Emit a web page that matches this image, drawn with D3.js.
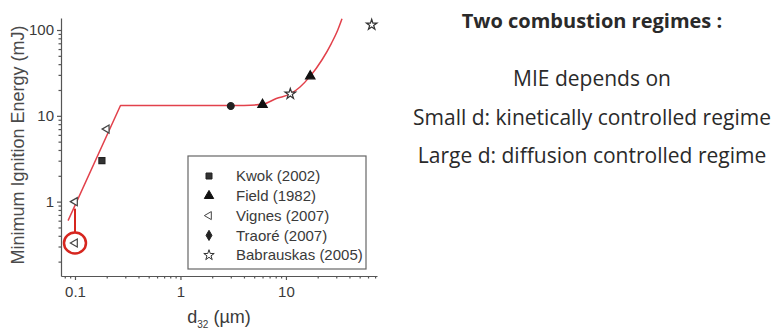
<!DOCTYPE html>
<html>
<head>
<meta charset="utf-8">
<script src="https://cdn.jsdelivr.net/npm/d3@7"></script>
<style>
    body { margin: 0; background: #fff; }
    svg { display: block; }
</style>
</head>
<body>
<div id="chart"></div>
<script>
// Data (x: d32 in um, y: MIE in mJ)
var kwokX = [0.18],
    kwokY = [3];
var fieldX = [6, 17],
    fieldY = [13.5, 29];
var vignesX = [0.1, 0.2, 0.1],
    vignesY = [1, 7, 0.33];
var traoreX = [3],
    traoreY = [13];
var babrauskasX = [11, 65],
    babrauskasY = [18, 115];

// Fitted red curve: straight rise, plateau, then a smooth upturn
var riseX = [0.086, 0.27, 4],
    riseY = [0.6, 13.2, 13.2];
var upturnX = [4, 6, 8.1, 11, 13.6, 17, 22, 27, 31, 34],
    upturnY = [13.2, 13.6, 15.9, 18, 21.7, 29, 45, 70, 100, 135];

var seriesNames = ['Kwok (2002)', 'Field (1982)', 'Vignes (2007)', 'Traoré (2007)', 'Babrauskas (2005)'];
var xTicks = [0.1, 1, 10],
    yTicks = [1, 10, 100];
var xMinor = [0.08, 0.09, 0.2, 0.3, 0.4, 0.5, 0.6, 0.7, 0.8, 0.9, 2, 3, 4, 5, 6, 7, 8, 9, 20, 30, 40, 50, 60, 70],
    yMinor = [0.2, 0.3, 0.4, 0.5, 0.6, 0.7, 0.8, 0.9, 2, 3, 4, 5, 6, 7, 8, 9, 20, 30, 40, 50, 60, 70, 80, 90];

var notes = [
    {text: 'Two combustion regimes :', bold: true},
    {text: 'MIE depends on', bold: false},
    {text: 'Small d: kinetically controlled regime', bold: false},
    {text: 'Large d: diffusion controlled regime', bold: false}
];

var width = 773,
    height = 335;
var axisColor = '#555',
    textColor = '#3a3a3a',
    curveColor = '#e2414b',
    ringColor = '#d6261f';

var svg = d3.select('#chart').append('svg')
    .attr('width', width)
    .attr('height', height);

// Scales
var x = d3.scaleLog().domain([0.0737, 73]).range([61, 377]);
var y = d3.scaleLog().domain([0.136, 138]).range([276, 18]);

// Axes
svg.append('g')
    .attr('transform', 'translate(0,' + y.range()[0] + ')')
    .call(d3.axisBottom(x).tickValues(xTicks).tickSize(4).tickSizeOuter(0).tickPadding(6).tickFormat(d3.format('')));
svg.append('g')
    .attr('transform', 'translate(0,' + y.range()[0] + ')')
    .call(d3.axisBottom(x).tickValues(xMinor).tickSize(2.5).tickFormat(''))
    .select('.domain').remove();

svg.append('g')
    .attr('transform', 'translate(' + x.range()[0] + ',0)')
    .call(d3.axisLeft(y).tickValues(yTicks).tickSize(4).tickSizeOuter(0).tickPadding(3).tickFormat(d3.format('')));
svg.append('g')
    .attr('transform', 'translate(' + x.range()[0] + ',0)')
    .call(d3.axisLeft(y).tickValues(yMinor).tickSize(2.5).tickFormat(''))
    .select('.domain').remove();

svg.selectAll('.domain').attr('stroke', axisColor).attr('stroke-width', 1.2);
svg.selectAll('.tick line').attr('stroke', axisColor).attr('stroke-width', 1.2);
svg.selectAll('.tick text')
    .attr('fill', textColor)
    .style('font-family', 'Liberation Sans, Arial, sans-serif')
    .style('font-size', '15px');

// Axis labels
var xLabel = svg.append('text')
    .attr('x', (x.range()[0] + x.range()[1]) / 2)
    .attr('y', 323)
    .attr('text-anchor', 'middle')
    .attr('fill', textColor)
    .style('font-family', 'Liberation Sans, Arial, sans-serif')
    .style('font-size', '18px');
xLabel.append('tspan').text('d');
xLabel.append('tspan').attr('dy', 5).style('font-size', '10px').text('32');
xLabel.append('tspan').attr('dy', -5).text(' (\u00b5m)');

svg.append('text')
    .attr('transform', 'translate(24,' + 145 + ') rotate(-90)')
    .attr('text-anchor', 'middle')
    .attr('fill', '#4a4a4a')
    .style('font-family', 'Liberation Sans, Arial, sans-serif')
    .style('font-size', '18px')
    .text('Minimum Ignition Energy (mJ)');

// Red fitted curve
var straight = d3.line()
    .x(function(d) { return x(d[0]); })
    .y(function(d) { return y(d[1]); });
var smooth = d3.line()
    .x(function(d) { return x(d[0]); })
    .y(function(d) { return y(d[1]); })
    .curve(d3.curveMonotoneX);
svg.append('path')
    .attr('d', straight(d3.zip(riseX, riseY)) + smooth(d3.zip(upturnX, upturnY)).replace(/^M/, 'L'))
    .attr('fill', 'none')
    .attr('stroke', curveColor)
    .attr('stroke-width', 1.5)
    .attr('stroke-linejoin', 'round');

// Red annotation: ring round the low Vignes point, tied to the point above
var ringR = 11;
svg.append('line')
    .attr('x1', x(vignesX[2]))
    .attr('x2', x(vignesX[2]))
    .attr('y1', y(vignesY[2]) - ringR)
    .attr('y2', y(vignesY[0]) + 7)
    .attr('stroke', ringColor)
    .attr('stroke-width', 2);
svg.append('ellipse')
    .attr('cx', x(vignesX[2]))
    .attr('cy', y(vignesY[2]))
    .attr('rx', ringR)
    .attr('ry', ringR - 0.5)
    .attr('fill', 'none')
    .attr('stroke', ringColor)
    .attr('stroke-width', 2.5);

// Marker shapes
var shapes = [
    {type: d3.symbolSquare, size: 36, fill: '#333', stroke: '#222', rotate: 0},
    {type: d3.symbolTriangle, size: 38, fill: '#111', stroke: '#111', rotate: 0},
    {type: d3.symbolTriangle, size: 28, fill: '#fff', stroke: '#444', rotate: -90},
    {type: d3.symbolCircle, size: 36, fill: '#222', stroke: '#222', rotate: 0},
    {type: d3.symbolStar, size: 34, fill: '#fff', stroke: '#333', rotate: 0}
];
var seriesX = [kwokX, fieldX, vignesX, traoreX, babrauskasX],
    seriesY = [kwokY, fieldY, vignesY, traoreY, babrauskasY];

seriesX.forEach(function(xs, i) {
    var s = shapes[i];
    svg.append('g').selectAll('path')
        .data(d3.zip(xs, seriesY[i]))
        .enter()
        .append('path')
        .attr('transform', function(d) {
            return 'translate(' + x(d[0]) + ',' + y(d[1]) + ') rotate(' + s.rotate + ')';
        })
        .attr('d', d3.symbol().type(s.type).size(s.size))
        .attr('fill', s.fill)
        .attr('stroke', s.stroke)
        .attr('stroke-width', 1.2);
});

// Legend
var legend = svg.append('g').attr('transform', 'translate(188,156)');
legend.append('rect')
    .attr('width', 178)
    .attr('height', 113)
    .attr('fill', '#fff')
    .attr('stroke', '#666')
    .attr('stroke-width', 1.2);
var legendShapes = shapes.map(function(s, i) {
    // Traoré is drawn as a diamond in the key
    return i === 3 ? {type: d3.symbolDiamond, size: 30, fill: '#222', stroke: '#222', rotate: 0} : s;
});
var rows = legend.selectAll('.row')
    .data(seriesNames)
    .enter()
    .append('g')
    .attr('class', 'row')
    .attr('transform', function(d, i) { return 'translate(0,' + (20 + i * 19.8) + ')'; });
rows.append('path')
    .attr('transform', function(d, i) { return 'translate(21,0) rotate(' + legendShapes[i].rotate + ')'; })
    .attr('d', function(d, i) { return d3.symbol().type(legendShapes[i].type).size(legendShapes[i].size)(); })
    .attr('fill', function(d, i) { return legendShapes[i].fill; })
    .attr('stroke', function(d, i) { return legendShapes[i].stroke; })
    .attr('stroke-width', 1);
rows.append('text')
    .attr('x', 48)
    .attr('dy', '0.35em')
    .attr('fill', textColor)
    .style('font-family', 'Liberation Sans, Arial, sans-serif')
    .style('font-size', '15px')
    .text(function(d) { return d; });

// Notes on the right
svg.append('g').selectAll('text')
    .data(notes)
    .enter()
    .append('text')
    .attr('x', 592)
    .attr('y', function(d, i) { return [28, 86, 125, 163][i]; })
    .attr('text-anchor', 'middle')
    .attr('fill', '#2a2a2a')
    .style('font-family', 'Open Sans, sans-serif')
    .style('font-weight', function(d) { return d.bold ? 700 : 400; })
    .style('font-size', function(d) { return d.bold ? '20px' : '21px'; })
    .text(function(d) { return d.text; });
</script>
</body>
</html>
